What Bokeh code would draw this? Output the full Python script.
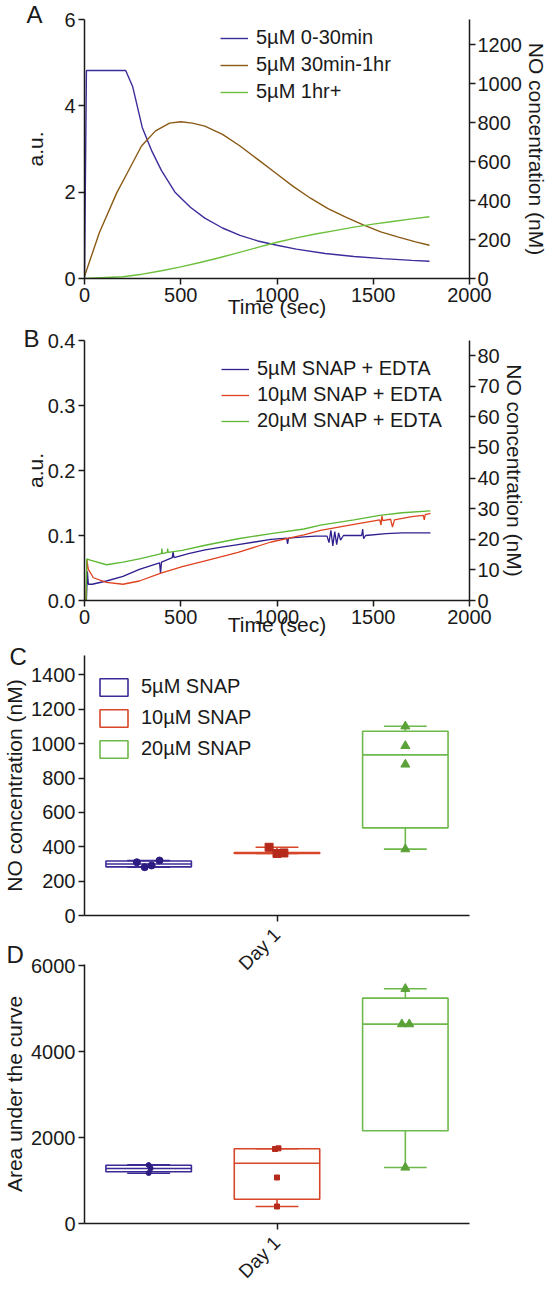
import math
from bokeh.plotting import figure
from bokeh.models import (Range1d, LinearAxis, FixedTicker, Legend, LegendItem, Title,
                          PrintfTickFormatter)
from bokeh.layouts import column
from bokeh.embed import file_html
from bokeh.resources import INLINE

FONT = "Liberation Sans"
INK = "#1a1a1a"

# ---------------- Panel A data (time in s, signal in a.u.) ----------------
a_t_blue = [0, 10, 214, 250, 300, 350, 400, 470, 550, 625, 717, 808, 900, 1000, 1100, 1250, 1400, 1550, 1700, 1792]
a_v_blue = [0, 4.82, 4.82, 4.45, 3.50, 2.95, 2.50, 2.00, 1.65, 1.40, 1.17, 1.00, 0.87, 0.77, 0.68, 0.58, 0.51, 0.46, 0.42, 0.40]
a_t_brown = [0, 77, 168, 223, 296, 369, 442, 500, 560, 625, 717, 808, 900, 991, 1082, 1174, 1265, 1357, 1448, 1539, 1631, 1720, 1792]
a_v_brown = [0.05, 1.06, 1.99, 2.45, 3.07, 3.42, 3.60, 3.63, 3.60, 3.53, 3.34, 3.07, 2.76, 2.45, 2.14, 1.86, 1.62, 1.42, 1.24, 1.08, 0.96, 0.85, 0.77]
a_t_green = [0, 200, 300, 400, 500, 600, 700, 800, 900, 1000, 1100, 1200, 1300, 1400, 1500, 1600, 1700, 1792]
a_v_green = [0, 0.04, 0.10, 0.18, 0.27, 0.37, 0.48, 0.60, 0.72, 0.84, 0.94, 1.03, 1.11, 1.19, 1.26, 1.32, 1.38, 1.43]
a_labels = ["5µM 0-30min", "5µM 30min-1hr", "5µM 1hr+"]

# ---------------- Panel B data ----------------
b_t_blue = [0, 10, 15, 20, 40, 114, 200, 285, 390, 395, 400, 456, 460, 465, 540, 627, 712, 798, 884, 969, 1050,
            1055, 1060, 1140, 1200, 1260, 1270, 1280, 1290, 1300, 1310, 1320, 1330, 1345, 1400, 1440, 1445, 1450,
            1460, 1567, 1650, 1797]
b_v_blue = [0, 0, 0.045, 0.025, 0.025, 0.030, 0.037, 0.048, 0.058, 0.042, 0.059, 0.066, 0.075, 0.066, 0.072, 0.078,
            0.082, 0.086, 0.090, 0.094, 0.096, 0.087, 0.096, 0.098, 0.099, 0.099, 0.089, 0.108, 0.084, 0.106, 0.086,
            0.104, 0.093, 0.100, 0.100, 0.100, 0.110, 0.095, 0.100, 0.103, 0.104, 0.104]
b_t_red = [0, 8, 12, 20, 46, 114, 200, 285, 397, 508, 627, 798, 969, 1140, 1226, 1400, 1534, 1540, 1545, 1550,
           1590, 1600, 1610, 1700, 1760, 1765, 1770, 1797]
b_v_red = [0, 0, 0.063, 0.048, 0.035, 0.028, 0.025, 0.030, 0.042, 0.052, 0.061, 0.074, 0.090, 0.101, 0.108, 0.117,
           0.124, 0.116, 0.130, 0.123, 0.125, 0.113, 0.124, 0.129, 0.131, 0.124, 0.132, 0.134]
b_t_green = [0, 8, 12, 30, 114, 200, 285, 400, 402, 405, 430, 432, 435, 508, 627, 798, 969, 1140, 1226, 1400, 1534,
             1650, 1797]
b_v_green = [0, 0, 0.064, 0.062, 0.055, 0.059, 0.064, 0.072, 0.080, 0.072, 0.074, 0.080, 0.074, 0.077, 0.085, 0.095,
             0.103, 0.110, 0.116, 0.124, 0.131, 0.135, 0.138]
b_labels = ["5µM SNAP + EDTA", "10µM SNAP + EDTA", "20µM SNAP + EDTA"]

# ---------------- Panels C / D box plots ----------------
groups = ["5µM SNAP", "10µM SNAP", "20µM SNAP"]
c_q1 = [283, 361, 510]
c_med = [300, 364, 935]
c_q3 = [317, 366, 1072]
c_lo = [281, 361, 386]
c_hi = [320, 397, 1101]
c_points = [[310, 281, 291, 320], [397, 361, 364], [1101, 987, 879, 386]]

d_q1 = [1204, 566, 2158]
d_med = [1281, 1404, 4641]
d_q3 = [1357, 1739, 5246]
d_lo = [1171, 396, 1304]
d_hi = [1367, 1739, 5464]
d_points = [[1360, 1285, 1175], [1735, 1750, 1071, 396], [5464, 4641, 4641, 1304]]

day_label = "Day 1"

# ---------------- styling ----------------
A_COLS = ["#3b2d9c", "#8a5a14", "#6cc03c"]
B_COLS = ["#2e1f8e", "#e0421f", "#5db834"]
BOX_COLS = ["#3b2b96", "#d8462a", "#6db94b"]
PT_COLS = ["#2c1b80", "#b52a1a", "#5aa238"]
MARKERS = ["circle", "square", "triangle"]
PT_SIZE_C = [7, 8, 9]
PT_SIZE_D = [5, 5, 9]
C_JIT = [[-12, -4, 3, 11], [-8, 0, 7], [0, 0, 0, 0]]
D_JIT = [[0, 2, 0], [-2, 1.5, 0, 0], [0, -3.5, 4, 0]]


def style_axis(ax, size="20px"):
    ax.axis_line_color = INK
    ax.axis_line_width = 1.5
    ax.major_tick_line_color = INK
    ax.major_tick_line_width = 1.5
    ax.major_tick_in = 0
    ax.major_tick_out = 6
    ax.minor_tick_line_color = None
    ax.major_label_text_font = FONT
    ax.major_label_text_font_size = size
    ax.major_label_text_color = INK
    ax.major_label_standoff = 3
    ax.axis_label_text_font = FONT
    ax.axis_label_text_font_size = "21px"
    ax.axis_label_text_font_style = "normal"
    ax.axis_label_text_color = INK


def base_fig(h, top, bottom, xr, yr, **kw):
    p = figure(width=550, height=h, x_range=xr, y_range=yr, output_backend="svg",
               toolbar_location=None, min_border_left=83, min_border_right=77,
               min_border_top=top, min_border_bottom=bottom, **kw)
    p.outline_line_color = None
    p.xgrid.grid_line_color = None
    p.ygrid.grid_line_color = None
    p.background_fill_color = "white"
    p.border_fill_color = "white"
    for ax in p.axis:
        style_axis(ax)
    return p


def letter(p, txt, offset, standoff):
    p.add_layout(Title(text=txt, align="left", offset=offset, standoff=standoff, text_font=FONT,
                       text_font_size="24px", text_font_style="normal", text_color=INK), "above")


def line_legend(p, rends, labels, loc, spacing):
    leg = Legend(items=[LegendItem(label=l, renderers=[r]) for l, r in zip(labels, rends)],
                 location=loc, orientation="vertical", border_line_color=None,
                 background_fill_alpha=0, padding=0, margin=0, spacing=spacing,
                 glyph_width=28, glyph_height=20, label_height=20, label_standoff=8,
                 label_text_font=FONT, label_text_font_size="20px", label_text_color=INK)
    p.add_layout(leg)


def category_axis(p):
    ax = p.xaxis[0]
    ax.ticker = FixedTicker(ticks=[1.5])
    ax.major_label_overrides = {1.5: day_label}
    ax.major_label_orientation = math.pi / 4
    ax.major_label_text_font_size = "19px"
    ax.major_label_standoff = 10


# ---------------- Panel A ----------------
pA = base_fig(324, 19, 46, Range1d(0, 2000), Range1d(0, 6))
pA.extra_y_ranges = {"nm": Range1d(0, 1330)}
rA = [pA.line(a_t_blue, a_v_blue, color=A_COLS[0], line_width=1.4),
      pA.line(a_t_brown, a_v_brown, color=A_COLS[1], line_width=1.4),
      pA.line(a_t_green, a_v_green, color=A_COLS[2], line_width=1.4)]
axA = LinearAxis(y_range_name="nm", axis_label="NO concentration (nM)",
                 ticker=FixedTicker(ticks=[0, 200, 400, 600, 800, 1000, 1200]))
style_axis(axA)
axA.major_label_standoff = 2
axA.axis_label_standoff = 0
pA.add_layout(axA, "right")
pA.xaxis.ticker = FixedTicker(ticks=[0, 500, 1000, 1500, 2000])
pA.xaxis.axis_label = "Time (sec)"
pA.xaxis.axis_label_standoff = -10
pA.yaxis[0].ticker = FixedTicker(ticks=[0, 2, 4, 6])
pA.yaxis[0].axis_label = "a.u."
pA.yaxis[0].axis_label_standoff = 14
line_legend(pA, rA, a_labels, (136, 175), 4)
letter(pA, "A", -58, -17)

# ---------------- Panel B ----------------
pB = base_fig(318, 16, 42, Range1d(0, 2000), Range1d(0, 0.4))
pB.extra_y_ranges = {"nm": Range1d(0, 84.9)}
rB = [pB.line(b_t_blue, b_v_blue, color=B_COLS[0], line_width=1.3),
      pB.line(b_t_red, b_v_red, color=B_COLS[1], line_width=1.3),
      pB.line(b_t_green, b_v_green, color=B_COLS[2], line_width=1.3)]
axB = LinearAxis(y_range_name="nm", axis_label="NO concentration (nM)", ticker=FixedTicker(ticks=list(range(0, 90, 10))))
style_axis(axB)
axB.major_label_standoff = 2
axB.axis_label_standoff = 0
pB.add_layout(axB, "right")
pB.xaxis.ticker = FixedTicker(ticks=[0, 500, 1000, 1500, 2000])
pB.xaxis.axis_label = "Time (sec)"
pB.xaxis.axis_label_standoff = -14
pB.yaxis[0].ticker = FixedTicker(ticks=[0, 0.1, 0.2, 0.3, 0.4])
pB.yaxis[0].formatter = PrintfTickFormatter(format="%.1f")
pB.yaxis[0].axis_label = "a.u."
pB.yaxis[0].axis_label_standoff = -2
line_legend(pB, rB, b_labels, (137, 168), 3)
letter(pB, "B", -61, -22)


def boxes(p, q1, med, q3, lo, hi, pts, jit, sizes):
    rends = []
    bw, cw = 0.333, 0.167
    px_unit = 3 / 390
    for i in range(3):
        c = 0.5 + i
        col = BOX_COLS[i]
        r = p.quad(left=[c - bw], right=[c + bw], bottom=[q1[i]], top=[q3[i]], fill_color=None,
                   line_color=col, line_width=1.6)
        rends.append(r)
        p.segment(x0=[c - bw], x1=[c + bw], y0=[med[i]], y1=[med[i]], line_color=col, line_width=1.6)
        p.segment(x0=[c, c], x1=[c, c], y0=[q3[i], q1[i]], y1=[hi[i], lo[i]], line_color=col, line_width=1.6)
        p.segment(x0=[c - cw, c - cw], x1=[c + cw, c + cw], y0=[hi[i], lo[i]], y1=[hi[i], lo[i]],
                  line_color=col, line_width=1.6)
        xs = [c + j * px_unit for j in jit[i]]
        p.scatter(xs, pts[i], marker=MARKERS[i], size=sizes[i], fill_color=PT_COLS[i], line_color=PT_COLS[i])
    return rends


# ---------------- Panel C ----------------
# the figure reaches below its nominal slot so that its rotated category label fits;
# panel D (transparent) is pulled up over that strip with a negative margin
C_EXTRA = 60
pC = base_fig(285 + C_EXTRA, 13, 12 + C_EXTRA, Range1d(0, 3), Range1d(0, 1513))
rC = boxes(pC, c_q1, c_med, c_q3, c_lo, c_hi, c_points, C_JIT, PT_SIZE_C)
category_axis(pC)
pC.yaxis.ticker = FixedTicker(ticks=list(range(0, 1600, 200)))
pC.yaxis.axis_label = "NO concentration (nM)"
pC.yaxis.axis_label_standoff = 2
legC = Legend(items=[LegendItem(label=g, renderers=[r]) for g, r in zip(groups, rC)],
              location=(12, 155), border_line_color=None, background_fill_alpha=0, padding=0, margin=0,
              spacing=8, glyph_width=35, glyph_height=22, label_height=22, label_standoff=10,
              label_text_font=FONT, label_text_font_size="20px", label_text_color=INK)
pC.add_layout(legC)
letter(pC, "C", -75, -28)

# ---------------- Panel D ----------------
pD = base_fig(37 + 259 + 72, 37, 72, Range1d(0, 3), Range1d(0, 6030), margin=(-C_EXTRA, 0, -22, 0))
pD.background_fill_color = None
pD.border_fill_color = None
boxes(pD, d_q1, d_med, d_q3, d_lo, d_hi, d_points, D_JIT, PT_SIZE_D)
category_axis(pD)
pD.yaxis.ticker = FixedTicker(ticks=[0, 2000, 4000, 6000])
pD.yaxis.axis_label = "Area under the curve"
pD.yaxis.axis_label_standoff = 2
letter(pD, "D", -78, -7)

layout = column(pA, pB, pC, pD, spacing=0)
open("out.html", "w").write(file_html(layout, INLINE))
